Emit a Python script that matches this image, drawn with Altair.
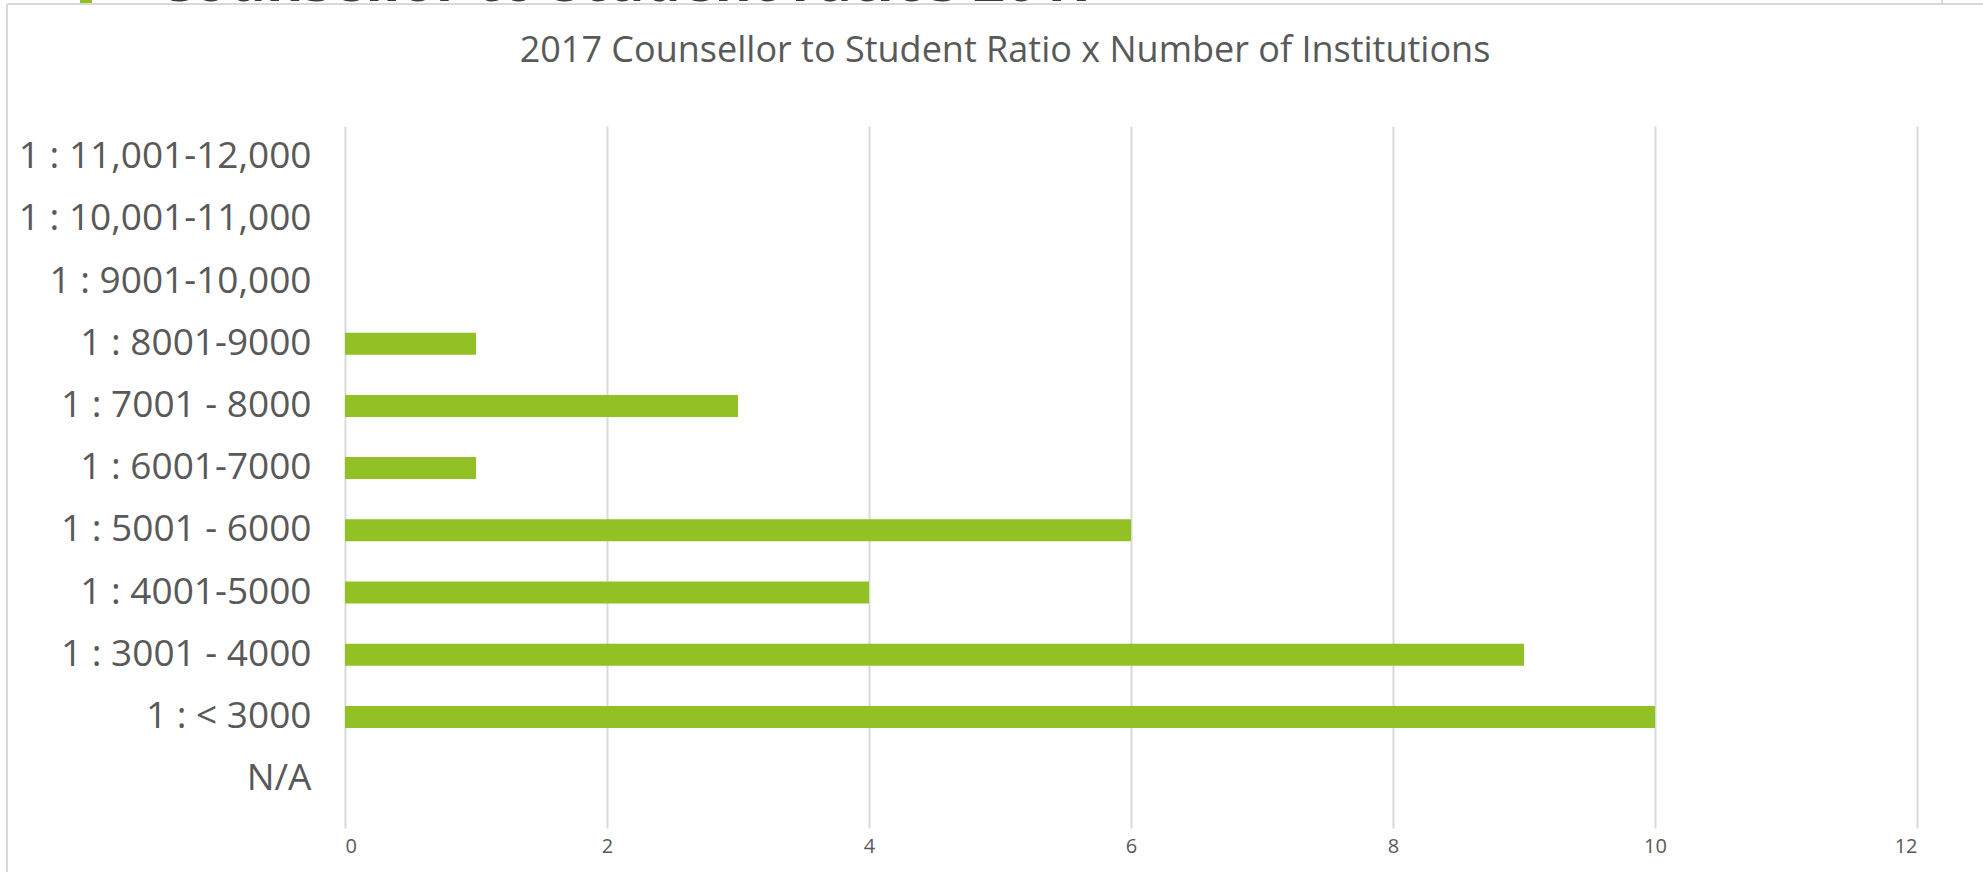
import altair as alt
import pandas as pd

# ---- data ----
categories = [
    "1 : 11,001-12,000",
    "1 : 10,001-11,000",
    "1 : 9001-10,000",
    "1 : 8001-9000",
    "1 : 7001 - 8000",
    "1 : 6001-7000",
    "1 : 5001 - 6000",
    "1 : 4001-5000",
    "1 : 3001 - 4000",
    "1 : < 3000",
    "N/A",
]
counts = [0, 0, 0, 1, 3, 1, 6, 4, 9, 10, 0]
x_ticks = [0, 2, 4, 6, 8, 10, 12]
chart_title = "2017 Counsellor to Student Ratio x Number of Institutions"
slide_heading = "Counsellor to Student ratios 2017"

df = pd.DataFrame({"ratio": categories, "institutions": counts})
title_df = pd.DataFrame({"t": [chart_title]})
heading_df = pd.DataFrame({"t": [slide_heading]})
one = pd.DataFrame({"k": [0]})

W, H = 1572, 702
PAD_L, PAD_T = 345, 126
GRAY_TXT = "#595959"
GREEN = "#92C126"
FONT = "Open Sans"

bars = alt.Chart(df).mark_bar(color=GREEN, size=22).encode(
    y=alt.Y(
        "ratio:N",
        sort=categories,
        scale=alt.Scale(paddingInner=0, paddingOuter=0.143, align=0),
        axis=alt.Axis(
            title=None, labelFont=FONT, labelFontSize=37, labelColor=GRAY_TXT,
            labelPadding=34, ticks=False, domain=False, grid=False, labelLimit=0,
        ),
    ),
    x=alt.X(
        "institutions:Q",
        scale=alt.Scale(domain=[0, 12], nice=False),
        axis=alt.Axis(
            values=x_ticks, title=None, labelFont=FONT, labelFontSize=20,
            labelColor=GRAY_TXT, labelPadding=8, ticks=False, domain=False,
            grid=True, gridColor="#d9d9d9", gridWidth=2,
        ),
    ),
)

title_txt = alt.Chart(title_df).mark_text(
    font=FONT, fontSize=36, color=GRAY_TXT, align="center", baseline="alphabetic"
).encode(text="t:N", x=alt.value(1005 - PAD_L), y=alt.value(62 - PAD_T))

heading_txt = alt.Chart(heading_df).mark_text(
    font=FONT, fontSize=57, fontWeight="bold", color="#3a3a3a", align="left",
    baseline="alphabetic",
).encode(text="t:N", x=alt.value(157 - PAD_L), y=alt.value(1 - PAD_T))

bullet = alt.Chart(one).mark_rule(color=GREEN, strokeWidth=4).encode(
    x=alt.value(80 - PAD_L), x2=alt.value(92 - PAD_L), y=alt.value(1 - PAD_T)
)

frame_top = alt.Chart(one).mark_rule(color="#d9d9d9", strokeWidth=2).encode(
    x=alt.value(7 - PAD_L), x2=alt.value(1983 - PAD_L), y=alt.value(4 - PAD_T)
)
frame_left = alt.Chart(one).mark_rule(color="#d9d9d9", strokeWidth=2).encode(
    x=alt.value(7 - PAD_L), y=alt.value(4 - PAD_T), y2=alt.value(872 - PAD_T)
)
frame_tick = alt.Chart(one).mark_rule(color="#bfbfbf", strokeWidth=1).encode(
    x=alt.value(1942 - PAD_L), y=alt.value(0 - PAD_T), y2=alt.value(4 - PAD_T)
)

chart = alt.layer(
    frame_top, frame_left, frame_tick, bullet, bars, title_txt, heading_txt
).properties(
    width=W,
    height=H,
    autosize=alt.AutoSizeParams(type="none"),
    padding={"left": PAD_L, "top": PAD_T, "right": 1983 - PAD_L - W, "bottom": 872 - PAD_T - H},
).configure_view(stroke=None)

chart.save("out.html", embed_options={"renderer": "svg", "actions": False})
